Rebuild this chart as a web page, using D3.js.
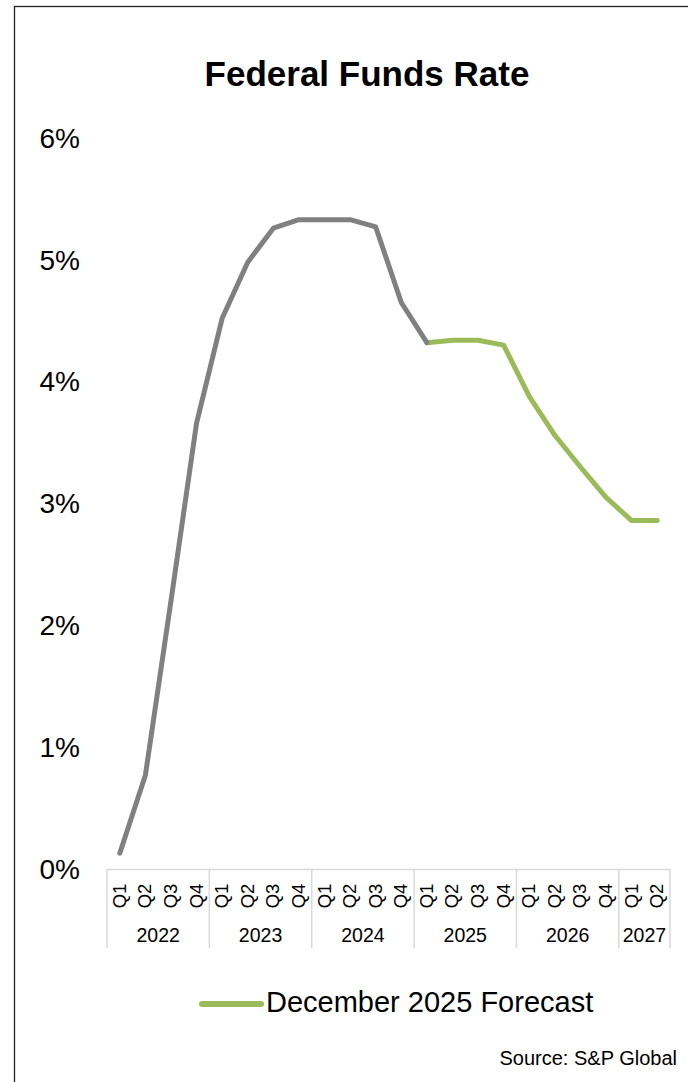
<!DOCTYPE html>
<html>
<head>
<meta charset="utf-8">
<script src="https://cdn.jsdelivr.net/npm/d3@7"></script>
<style>
  html, body { margin: 0; padding: 0; background: #fff; }
  svg { display: block; font-family: "Liberation Sans", Arial, sans-serif; }
</style>
</head>
<body>
<svg id="chart" width="688" height="1082"></svg>
<script>
// ---- data ----
const years = ["2022", "2023", "2024", "2025", "2026", "2027"];
const quartersPerYear = [4, 4, 4, 4, 4, 2];
const quarterLabels = ["Q1","Q2","Q3","Q4","Q1","Q2","Q3","Q4","Q1","Q2","Q3","Q4","Q1","Q2","Q3","Q4","Q1","Q2","Q3","Q4","Q1","Q2"];
// history: 2022Q1 .. 2025Q1 (indices 0..12)
const historyValues = [0.13, 0.77, 2.2, 3.66, 4.52, 4.98, 5.26, 5.33, 5.33, 5.33, 5.27, 4.65, 4.32];
// forecast: 2025Q1 .. 2027Q2 (indices 12..21)
const forecastValues = [4.32, 4.34, 4.34, 4.30, 3.88, 3.56, 3.30, 3.05, 2.86, 2.86];
const forecastStart = 12;
const yTicks = [0, 1, 2, 3, 4, 5, 6];
const titleText = "Federal Funds Rate";
const legendText = "December 2025 Forecast";
const sourceText = "Source: S&P Global";

(function () {
// ---- layout ----
const svg = d3.select("#chart");
const plotLeft = 107, plotRight = 670, plotTop = 138, plotBottom = 869;
const grey = "#808080", green = "#9BBB59", axisGrey = "#d9d9d9";

svg.append("rect").attr("x", 14.5).attr("y", 6.5).attr("width", 700).attr("height", 1100)
  .attr("fill", "#fff").attr("stroke", "#222").attr("stroke-width", 1.3);

svg.append("text").attr("x", 367).attr("y", 86).attr("text-anchor", "middle")
  .attr("font-size", 35).attr("font-weight", "bold").attr("fill", "#000").text(titleText);

const x = d3.scaleBand().domain(d3.range(quarterLabels.length)).range([plotLeft, plotRight]).padding(0);
const y = d3.scaleLinear().domain([0, 6]).range([plotBottom, plotTop]);

// y labels
svg.append("g").selectAll("text").data(yTicks).join("text")
  .attr("x", 80).attr("y", d => y(d)).attr("dy", "0.35em")
  .attr("text-anchor", "end").attr("font-size", 28).attr("fill", "#000")
  .text(d => d + "%");

// x axis (multi-level)
const axisBottomY = 948;
const ax = svg.append("g");
ax.append("line").attr("x1", plotLeft).attr("x2", plotRight).attr("y1", plotBottom + 0.5).attr("y2", plotBottom + 0.5)
  .attr("stroke", axisGrey).attr("stroke-width", 1.5);
let cum = 0;
const bounds = [0];
quartersPerYear.forEach(n => { cum += n; bounds.push(cum); });
const bx = b => (b < quarterLabels.length ? x(b) : plotRight);
bounds.forEach(b => {
  ax.append("line").attr("x1", bx(b)).attr("x2", bx(b)).attr("y1", plotBottom).attr("y2", axisBottomY)
    .attr("stroke", axisGrey).attr("stroke-width", 1.5);
});
ax.selectAll("text.q").data(quarterLabels).join("text").attr("class", "q")
  .attr("transform", (d, i) => `translate(${x(i) + x.bandwidth() / 2 + 6},${896}) rotate(-90)`)
  .attr("text-anchor", "middle").attr("font-size", 18.5).attr("fill", "#000")
  .text(d => d);
ax.selectAll("text.yr").data(years).join("text").attr("class", "yr")
  .attr("x", (d, i) => (bx(bounds[i]) + bx(bounds[i + 1])) / 2)
  .attr("y", 942).attr("text-anchor", "middle").attr("font-size", 19.5).attr("fill", "#000")
  .text(d => d);

// lines
const line = d3.line().x(d => x(d.i) + x.bandwidth() / 2).y(d => y(d.v));
const fData = forecastValues.map((v, k) => ({ i: forecastStart + k, v }));
const hData = historyValues.map((v, i) => ({ i, v }));
svg.append("path").datum(fData).attr("d", line).attr("fill", "none")
  .attr("stroke", green).attr("stroke-width", 5).attr("stroke-linecap", "round").attr("stroke-linejoin", "round");
svg.append("path").datum(hData).attr("d", line).attr("fill", "none")
  .attr("stroke", grey).attr("stroke-width", 5).attr("stroke-linecap", "round").attr("stroke-linejoin", "round");

// legend
svg.append("line").attr("x1", 202).attr("x2", 261).attr("y1", 1004).attr("y2", 1004)
  .attr("stroke", green).attr("stroke-width", 6).attr("stroke-linecap", "round");
svg.append("text").attr("x", 266).attr("y", 1012).attr("font-size", 29).attr("fill", "#000").text(legendText);

// source
svg.append("text").attr("x", 677).attr("y", 1065).attr("text-anchor", "end")
  .attr("font-size", 20).attr("fill", "#000").text(sourceText);
})();
</script>
</body>
</html>
